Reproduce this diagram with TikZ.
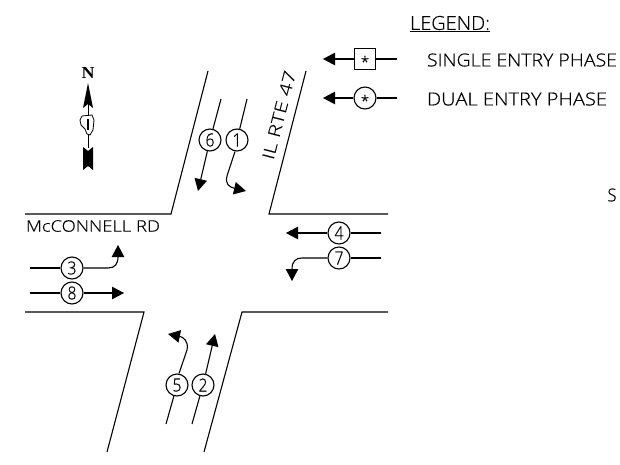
\documentclass[tikz,border=0pt]{standalone}
\usepackage{fontspec}
\usepackage{graphicx}
\setmainfont[FakeBold=0.5]{Open Sans Light}
\newfontfamily\northfont{Liberation Serif}
\usetikzlibrary{arrows.meta}
\newcommand{\cadt}[3]{\resizebox{#1pt}{#2pt}{#3}}
\tikzset{
  road/.style={line width=1.1pt,black,line join=miter},
  lane/.style={line width=1.1pt,black},
  arrowed/.style={lane,-{Triangle[length=12pt,width=12.5pt]}},
  phase/.style={circle,draw=black,line width=1.1pt,minimum size=22pt,inner sep=0pt,fill=white},
  phasebox/.style={rectangle,draw=black,line width=1.1pt,minimum size=21pt,inner sep=0pt},
  label/.style={inner sep=0pt,outer sep=0pt}
}
\newcommand{\dg}[1]{\cadt{9}{13}{#1}}
\newcommand{\cadstar}{\raisebox{-8.3pt}[4pt][4pt]{\fontsize{15}{15}\selectfont *}}
\begin{document}
\begin{tikzpicture}[x=1pt,y=-1pt]
\useasboundingbox (0,0) rectangle (620,465);
% roads
\draw[road] (208,71) -- (171,214) -- (25,214);
\draw[road] (306,71) -- (269,214) -- (388,214);
\draw[road] (25,312) -- (144,312) -- (107,452);
\draw[road] (388,312) -- (242,312) -- (204,452);
% phase nodes
\node[phase] (p6) at (210,140) {\dg{6}};
\node[phase] (p1) at (237,140) {\dg{1}};
\node[phase] (p3) at (72,268) {\dg{3}};
\node[phase] (p8) at (72,293) {\dg{8}};
\node[phase] (p5) at (177,385) {\dg{5}};
\node[phase] (p2) at (203,385) {\dg{2}};
\node[phase] (p4) at (339,233) {\dg{4}};
\node[phase] (p7) at (339,258) {\dg{7}};
% free ends
\coordinate (s6) at (221,99); \coordinate (t6) at (198,191);
\coordinate (s1) at (247,99); \coordinate (t1) at (246,191);
\coordinate (s3) at (30,268); \coordinate (t3) at (118,245);
\coordinate (s8) at (30,293); \coordinate (t8) at (124,293);
\coordinate (s5) at (166,424); \coordinate (t5) at (168,334);
\coordinate (s2) at (192,424); \coordinate (t2) at (215,334);
\coordinate (s4) at (381,233); \coordinate (t4) at (286,233);
\coordinate (s7) at (381,258); \coordinate (t7) at (292,281);
% connectors
\draw[lane] (s6) -- (p6);
\draw[arrowed] (p6) -- (t6);
\draw[lane] (s1) -- (p1);
\draw[arrowed] (p1.south) ++(-2,0) -- (227,176) .. controls (225,184) and (229,187) .. (t1);
\draw[lane] (s3) -- (p3);
\draw[arrowed] (p3.east) -- (108,268) .. controls (115,268) and (118,264) .. (t3);
\draw[lane] (s8) -- (p8);
\draw[arrowed] (p8) -- (t8);
\draw[lane] (s5) -- (p5);
\draw[arrowed] (p5.north) ++(2,0) -- (187,350) .. controls (189,341) and (183,337) .. (t5);
\draw[lane] (s2) -- (p2);
\draw[arrowed] (p2) -- (t2);
\draw[lane] (s4) -- (p4);
\draw[arrowed] (p4) -- (t4);
\draw[lane] (s7) -- (p7);
\draw[arrowed] (p7.west) -- (302,258) .. controls (296,258) and (292,261) .. (t7);
% road labels
\node[label,anchor=west] (mcc) at (26,226) {\cadt{134}{11.5}{McCONNELL RD}};
\node[label,rotate=75.5] (il) at (279,115) {\cadt{91}{12}{IL RTE 47}};
% legend
\node[label,anchor=west] (leg) at (410,23) {\cadt{80}{14}{LEGEND:}};
\draw[line width=1pt] (410,32) -- (490,32);
\node[phasebox] (lb) at (365,59) {\cadstar};
\node[phase] (lc) at (365,98) {\cadstar};
\coordinate (lbs) at (397,59); \coordinate (lbt) at (323,59);
\coordinate (lcs) at (397,98); \coordinate (lct) at (323,98);
\draw[lane] (lbs) -- (lb);
\draw[arrowed] (lb) -- (lbt);
\draw[lane] (lcs) -- (lc);
\draw[arrowed] (lc) -- (lct);
\node[label,anchor=west] (lt1) at (427,60) {\cadt{190}{13}{SINGLE ENTRY PHASE}};
\node[label,anchor=west] (lt2) at (427,99) {\cadt{180}{13}{DUAL ENTRY PHASE}};
\node[label] (s) at (612,195) {\cadt{9}{13}{S}};
% north arrow
\node[label] (n) at (88,73) {\cadt{13}{11}{\northfont\bfseries N}};
\fill (88,83) -- (93,108) -- (88,104) -- (83,108) -- cycle;
\draw[line width=0.8pt] (88,104) -- (88,116);
\draw[line width=0.8pt,fill=white] (82,116) -- (92,115) -- (94,120) -- (93,130) -- (90,135) -- (87,134) -- (85,129) -- (81,125) -- (80,120) -- cycle;
\draw[line width=1.2pt] (88,119) -- (88,130);
\draw[line width=0.8pt] (88,135) -- (88,148);
\fill (83,147) -- (88,151) -- (93,147) -- (93,170) -- (88,166) -- (83,170) -- cycle;
\end{tikzpicture}
\end{document}
